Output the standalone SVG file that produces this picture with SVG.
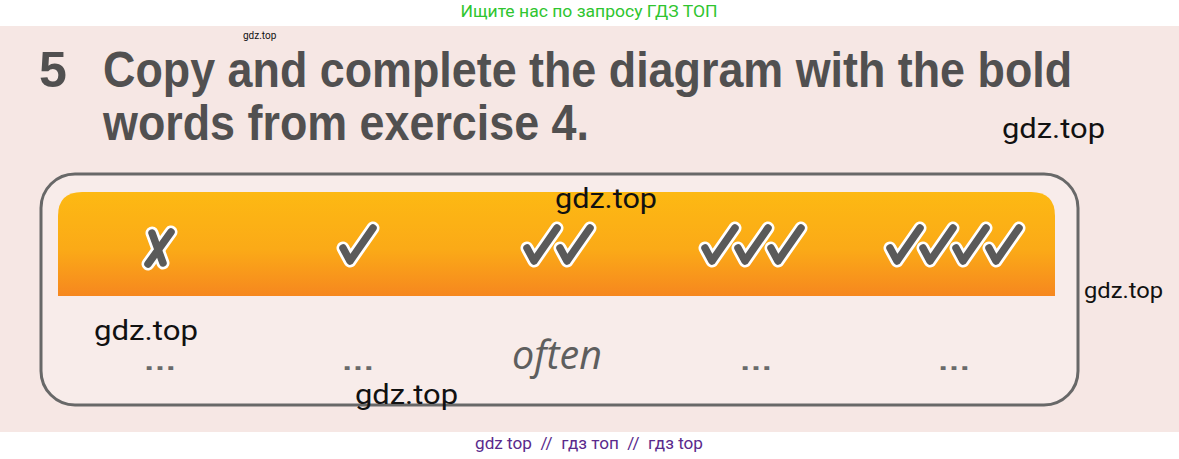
<svg xmlns="http://www.w3.org/2000/svg" width="1179" height="459" viewBox="0 0 1179 459">
<defs>
<style>
.wm{font-family:Roboto,"Liberation Sans",sans-serif;fill:#111;}
.title{font-family:"Liberation Sans",Arial,sans-serif;font-weight:bold;fill:#515050;font-size:50px;}
.dots{font-family:"Liberation Sans",Arial,sans-serif;font-weight:bold;fill:#6a6a6a;font-size:26px;text-anchor:middle;}
.markw{fill:none;stroke:#ffffff;stroke-width:13;stroke-linecap:round;stroke-linejoin:round;}
.markg{fill:none;stroke:#5a5a5a;stroke-width:7.5;stroke-linecap:round;stroke-linejoin:round;}
</style>
<linearGradient id="band" x1="0" y1="0" x2="0" y2="1">
<stop offset="0" stop-color="#fdb913"/>
<stop offset="0.55" stop-color="#fbaa17"/>
<stop offset="1" stop-color="#f6871f"/>
</linearGradient>
<g id="chkw"><polyline class="markw" points="5,25 12,38 35,5"/></g>
<g id="chkg"><polyline class="markg" points="5,25 12,38 35,5"/></g>
</defs>
<rect x="0" y="0" width="1179" height="459" fill="#ffffff"/>
<rect x="0" y="26" width="1179" height="406" fill="#f6e7e4"/>
<text x="589" y="17" font-family="Roboto,'Liberation Sans',sans-serif" font-size="17" fill="#2fc52f" text-anchor="middle" textLength="257" lengthAdjust="spacingAndGlyphs">Ищите нас по запросу ГДЗ ТОП</text>
<g id="title">
<text class="title" x="39" y="87">5</text>
<text class="title" transform="translate(103,87) scale(0.897,1)" x="0" y="0">Copy and complete the diagram with the bold</text>
<text class="title" transform="translate(103,140) scale(0.897,1)" x="0" y="0">words from exercise 4.</text>
</g>
<g id="frame">
<rect x="41" y="174" width="1037" height="231" rx="34" ry="34" fill="#f8ecea" stroke="#686868" stroke-width="3"/>
<path d="M58,296 L58,216 Q58,192 82,192 L1031,192 Q1055,192 1055,216 L1055,296 Z" fill="url(#band)"/>
</g>
<g id="symbols">
<g id="never">
<line class="markw" x1="152" y1="233" x2="163" y2="263"/>
<line class="markw" x1="171" y1="232" x2="148" y2="264"/>
<line class="markg" x1="152" y1="233" x2="163" y2="263"/>
<line class="markg" x1="171" y1="232" x2="148" y2="264"/>
</g>
<g id="one" transform="translate(338,223)">
<use href="#chkw"/><use href="#chkg"/>
</g>
<g id="two" transform="translate(522,223)">
<use href="#chkw"/><use href="#chkw" x="33"/>
<use href="#chkg"/><use href="#chkg" x="33"/>
</g>
<g id="three" transform="translate(700,223)">
<use href="#chkw"/><use href="#chkw" x="33"/><use href="#chkw" x="66"/>
<use href="#chkg"/><use href="#chkg" x="33"/><use href="#chkg" x="66"/>
</g>
<g id="four" transform="translate(885,223)">
<use href="#chkw"/><use href="#chkw" x="33"/><use href="#chkw" x="66"/><use href="#chkw" x="99"/>
<use href="#chkg"/><use href="#chkg" x="33"/><use href="#chkg" x="66"/><use href="#chkg" x="99"/>
</g>
</g>
<g id="answers">
<text class="dots" x="160" y="370" textLength="34" lengthAdjust="spacingAndGlyphs">…</text>
<text class="dots" x="358" y="370" textLength="34" lengthAdjust="spacingAndGlyphs">…</text>
<text x="557" y="369" font-family="'Open Sans','Noto Sans',sans-serif" font-style="italic" font-size="40" fill="#5e5e5e" text-anchor="middle" textLength="90" lengthAdjust="spacingAndGlyphs">often</text>
<text class="dots" x="756" y="370" textLength="34" lengthAdjust="spacingAndGlyphs">…</text>
<text class="dots" x="954" y="370" textLength="34" lengthAdjust="spacingAndGlyphs">…</text>
</g>
<g id="watermarks">
<text class="wm" x="243" y="39" font-size="10">gdz.top</text>
<text class="wm" x="1002" y="138" font-size="27" textLength="103" lengthAdjust="spacingAndGlyphs">gdz.top</text>
<text class="wm" x="555" y="208" font-size="27" textLength="102" lengthAdjust="spacingAndGlyphs">gdz.top</text>
<text class="wm" x="1084" y="298" font-size="22" textLength="79" lengthAdjust="spacingAndGlyphs">gdz.top</text>
<text class="wm" x="94" y="340" font-size="27" textLength="104" lengthAdjust="spacingAndGlyphs">gdz.top</text>
<text class="wm" x="355" y="404" font-size="27" textLength="103" lengthAdjust="spacingAndGlyphs">gdz.top</text>
</g>
<text x="589" y="449" font-family="Roboto,'Liberation Sans',sans-serif" font-size="16" fill="#5a2a8c" text-anchor="middle" style="white-space:pre" textLength="228" lengthAdjust="spacingAndGlyphs">gdz top  //  гдз топ  //  гдз top</text>
</svg>
